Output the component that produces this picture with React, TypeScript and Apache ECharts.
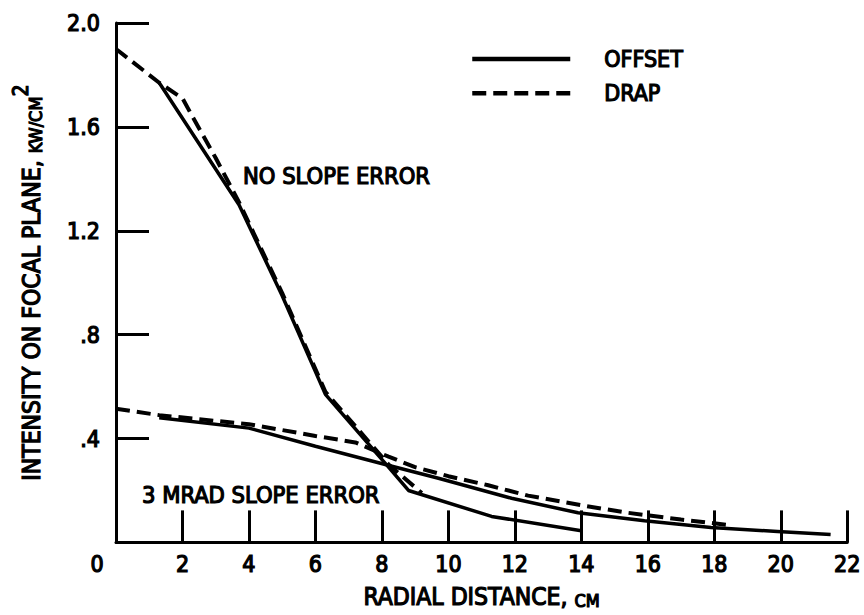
import React, { useEffect, useRef } from 'react';
import * as echarts from 'echarts';

// Radial distance (cm) vs intensity (kW/cm^2)
const noSlopeOffset: [number, number][] = [
  [1.3, 1.77], [3.7, 1.3], [5.0, 0.95], [6.3, 0.57], [8.2, 0.29], [8.8, 0.2], [11.3, 0.1], [14.0, 0.045],
];
const noSlopeDrap: [number, number][] = [
  [0, 1.9], [1.3, 1.77], [2.0, 1.71], [2.3, 1.64], [3.0, 1.48], [3.7, 1.31], [5.0, 0.96], [6.3, 0.58], [8.2, 0.3], [9.2, 0.19],
];
const mradOffset: [number, number][] = [
  [1.3, 0.48], [4.0, 0.44], [6.0, 0.37], [8.1, 0.3], [9.7, 0.247], [11.9, 0.17], [13.9, 0.114], [15.9, 0.083], [17.9, 0.057], [19.9, 0.042], [21.5, 0.03],
];
const mradDrap: [number, number][] = [
  [0, 0.515], [1.3, 0.49], [4.0, 0.455], [6.0, 0.41], [7.2, 0.385], [8.2, 0.33], [9.0, 0.29], [10.0, 0.255], [11.2, 0.22], [12.4, 0.18], [14.0, 0.143], [15.4, 0.114], [17.0, 0.088], [18.5, 0.066],
];

const legendNames = ['OFFSET', 'DRAP'];
const annotations = [
  { text: 'NO SLOPE ERROR', x: 243, y: 176 },
  { text: '3 MRAD SLOPE ERROR', x: 142, y: 495 },
];

const FONT = "'DejaVu Sans Condensed', 'DejaVu Sans', sans-serif";
const FS = 23;
const FT = 24.5;
const BW = 1.2;
const txt = (size: number) => ({
  fontFamily: FONT,
  fontSize: size,
  fontWeight: 'normal' as const,
  color: '#000',
  textBorderColor: '#000',
  textBorderWidth: BW,
});

export default function App() {
  const ref = useRef<HTMLDivElement>(null);
  useEffect(() => {
    const chart = echarts.init(ref.current!, null, { renderer: 'svg' });
    const solid = { color: '#000', width: 3.5, type: 'solid' as const };
    const dashed = { color: '#000', width: 4, type: [14, 7] as any };
    chart.setOption({
      animation: false,
      backgroundColor: '#fff',
      textStyle: { fontFamily: FONT, color: '#000' },
      grid: { left: 116, right: 16, top: 23, bottom: 65, containLabel: false },
      legend: {
        data: legendNames,
        orient: 'vertical',
        left: 470,
        top: 47,
        padding: 0,
        itemWidth: 98,
        itemHeight: 14,
        itemGap: 10,
        itemStyle: { opacity: 0, color: 'rgba(0,0,0,0)', borderWidth: 0 },
        lineStyle: { width: 4.5, color: '#000' },
        textStyle: { ...txt(FS), lineHeight: 24, padding: [0, 0, 0, 29] },
        selectedMode: false,
      },
      xAxis: {
        type: 'value',
        min: 0,
        max: 22,
        interval: 2,
        name: '{a|RADIAL DISTANCE, }{s|CM}',
        nameLocation: 'middle',
        nameGap: 41,
        nameTextStyle: {
          rich: {
            a: { ...txt(FT), verticalAlign: 'bottom', lineHeight: 26 },
            s: { ...txt(18), verticalAlign: 'bottom', lineHeight: 22 },
          },
        },
        axisLine: { show: true, lineStyle: { color: '#000', width: 3 } },
        axisTick: { show: true, inside: true, length: 32, lineStyle: { color: '#000', width: 3 } },
        splitLine: { show: false },
        axisLabel: {
          margin: 10,
          ...txt(FS),
          formatter: (v: number) => (v === 0 ? '{z|0}' : String(v)),
          rich: { z: { ...txt(FS), padding: [0, 38, 0, 0] } },
        },
      },
      yAxis: {
        type: 'value',
        min: 0,
        max: 2.0,
        interval: 0.4,
        name: '{a|INTENSITY ON FOCAL PLANE, }{s|KW/CM}{sup|2}',
        nameLocation: 'middle',
        nameGap: 72,
        nameTextStyle: {
          rich: {
            a: { ...txt(FT), verticalAlign: 'bottom', lineHeight: 34 },
            s: { ...txt(18), verticalAlign: 'bottom', lineHeight: 23 },
            sup: { ...txt(21), verticalAlign: 'top', lineHeight: 22 },
          },
        },
        axisLine: { show: true, lineStyle: { color: '#000', width: 3 } },
        axisTick: { show: true, inside: true, length: 33, lineStyle: { color: '#000', width: 3 } },
        splitLine: { show: false },
        axisLabel: {
          margin: 16,
          ...txt(FS),
          formatter: (v: number) => (v === 0 ? '' : v >= 1 ? v.toFixed(1) : v.toFixed(1).slice(1)),
        },
      },
      graphic: annotations.map((a) => ({
        type: 'text',
        x: a.x,
        y: a.y,
        style: {
          text: a.text,
          fontFamily: FONT,
          fontSize: 23.5,
          fill: '#000',
          stroke: '#000',
          lineWidth: BW,
          align: 'left',
          verticalAlign: 'middle',
        },
      })),
      series: [
        { name: 'OFFSET', type: 'line', data: noSlopeOffset, showSymbol: false, symbol: 'none', lineStyle: solid, itemStyle: { color: '#000' } },
        { name: 'DRAP', type: 'line', data: noSlopeDrap, showSymbol: false, symbol: 'none', lineStyle: dashed, itemStyle: { color: '#000' } },
        { name: 'OFFSET', type: 'line', data: mradOffset, showSymbol: false, symbol: 'none', lineStyle: solid, itemStyle: { color: '#000' } },
        { name: 'DRAP', type: 'line', data: mradDrap, showSymbol: false, symbol: 'none', lineStyle: dashed, itemStyle: { color: '#000' } },
      ],
    });
    return () => chart.dispose();
  }, []);
  return (
    <div
      ref={ref}
      style={{ position: 'fixed', left: 0, top: 0, width: 864, height: 615, background: '#fff' }}
    />
  );
}
